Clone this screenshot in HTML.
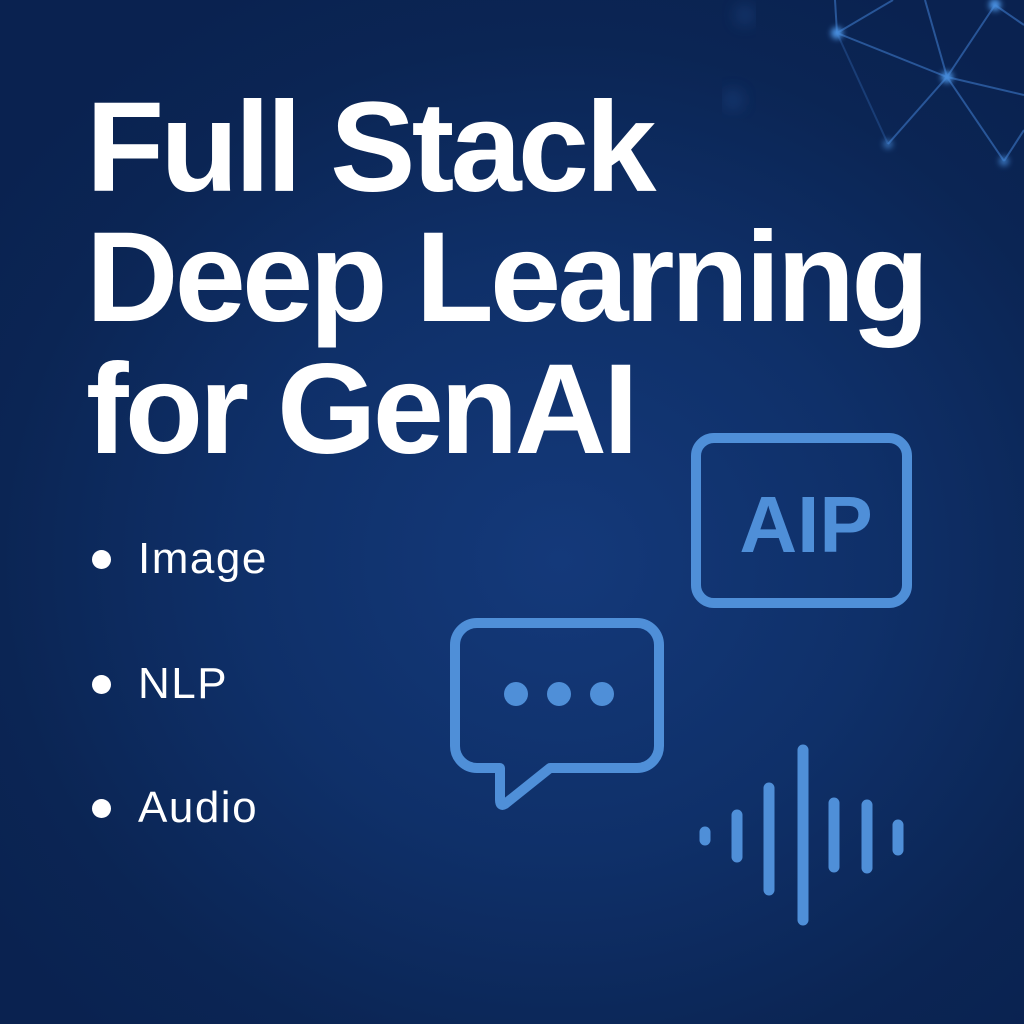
<!DOCTYPE html>
<html><head><meta charset="utf-8"><style>
html,body{margin:0;padding:0}
body{width:1024px;height:1024px;overflow:hidden;position:relative;
background:radial-gradient(ellipse 700px 650px at 560px 560px,#14397a 0%,#0f3069 45%,#0b2554 80%,#0a2250 100%);
font-family:"Liberation Sans",sans-serif}
.t{position:absolute;left:86px;color:#fff;font-weight:bold;font-size:128px;letter-spacing:-3.8px;line-height:1;white-space:nowrap}
.b{position:absolute;left:138px;color:#fff;font-size:44px;letter-spacing:1.5px;line-height:1}
.d{position:absolute;left:92px;width:19px;height:19px;border-radius:50%;background:#fff}
svg{position:absolute;left:0;top:0}
</style></head><body>
<svg width="1024" height="1024">
<defs><filter id="bl"><feGaussianBlur stdDeviation="3"/></filter>
<filter id="bl2"><feGaussianBlur stdDeviation="8"/></filter></defs>
<g stroke="#3d78c8" stroke-width="2" opacity="0.6">
<line x1="837" y1="33" x2="893" y2="0"/>
<line x1="837" y1="33" x2="947" y2="77"/>
<line x1="837" y1="33" x2="888" y2="144" opacity="0.5"/>
<line x1="925" y1="0" x2="947" y2="77"/>
<line x1="995" y1="5" x2="947" y2="77"/>
<line x1="947" y1="77" x2="888" y2="144"/>
<line x1="947" y1="77" x2="1004" y2="161"/>
<line x1="947" y1="77" x2="1024" y2="95"/>
<line x1="995" y1="5" x2="1024" y2="25"/>
<line x1="1004" y1="161" x2="1024" y2="130"/>
<line x1="835" y1="0" x2="837" y2="33"/>
</g>
<g fill="#4a90e0" filter="url(#bl)">
<circle cx="837" cy="33" r="6"/><circle cx="995" cy="5" r="6"/><circle cx="947" cy="77" r="6"/>
<circle cx="888" cy="144" r="5" opacity="0.6"/><circle cx="1004" cy="161" r="5" opacity="0.7"/>
</g>
<g fill="#2a5aa0" filter="url(#bl2)" opacity="0.5">
<circle cx="745" cy="15" r="8"/><circle cx="733" cy="100" r="8"/>
</g>
<g fill="none" stroke="#4f8fd8" stroke-width="10">
<rect x="696" y="438" width="211" height="165" rx="18"/>
<path d="M477,623 H637 A22,22 0 0 1 659,645 V746 A22,22 0 0 1 637,768 H550 L505,804 Q500,807 500,800 V768 H477 A22,22 0 0 1 455,746 V645 A22,22 0 0 1 477,623 Z" stroke-linejoin="round"/>
</g>
<g fill="#4f8fd8"><circle cx="516" cy="694" r="12"/><circle cx="559" cy="694" r="12"/><circle cx="602" cy="694" r="12"/></g>
<text x="806" y="552" text-anchor="middle" fill="#4f8fd8" font-family="Liberation Sans" font-weight="bold" font-size="80">AIP</text>
<g stroke="#4f8fd8" stroke-width="11" stroke-linecap="round">
<line x1="705" y1="832" x2="705" y2="840"/>
<line x1="737" y1="815" x2="737" y2="857"/>
<line x1="769" y1="788" x2="769" y2="890"/>
<line x1="803" y1="750" x2="803" y2="920"/>
<line x1="834" y1="803" x2="834" y2="867"/>
<line x1="867" y1="805" x2="867" y2="868"/>
<line x1="898" y1="825" x2="898" y2="850"/>
</g>
</svg>
<div class="t" style="top:84px">Full Stack</div>
<div class="t" style="top:214px">Deep Learning</div>
<div class="t" style="top:346px">for GenAI</div>
<div class="d" style="top:550px"></div><div class="b" style="top:537px">Image</div>
<div class="d" style="top:675px"></div><div class="b" style="top:662px">NLP</div>
<div class="d" style="top:799px"></div><div class="b" style="top:786px">Audio</div>
</body></html>
